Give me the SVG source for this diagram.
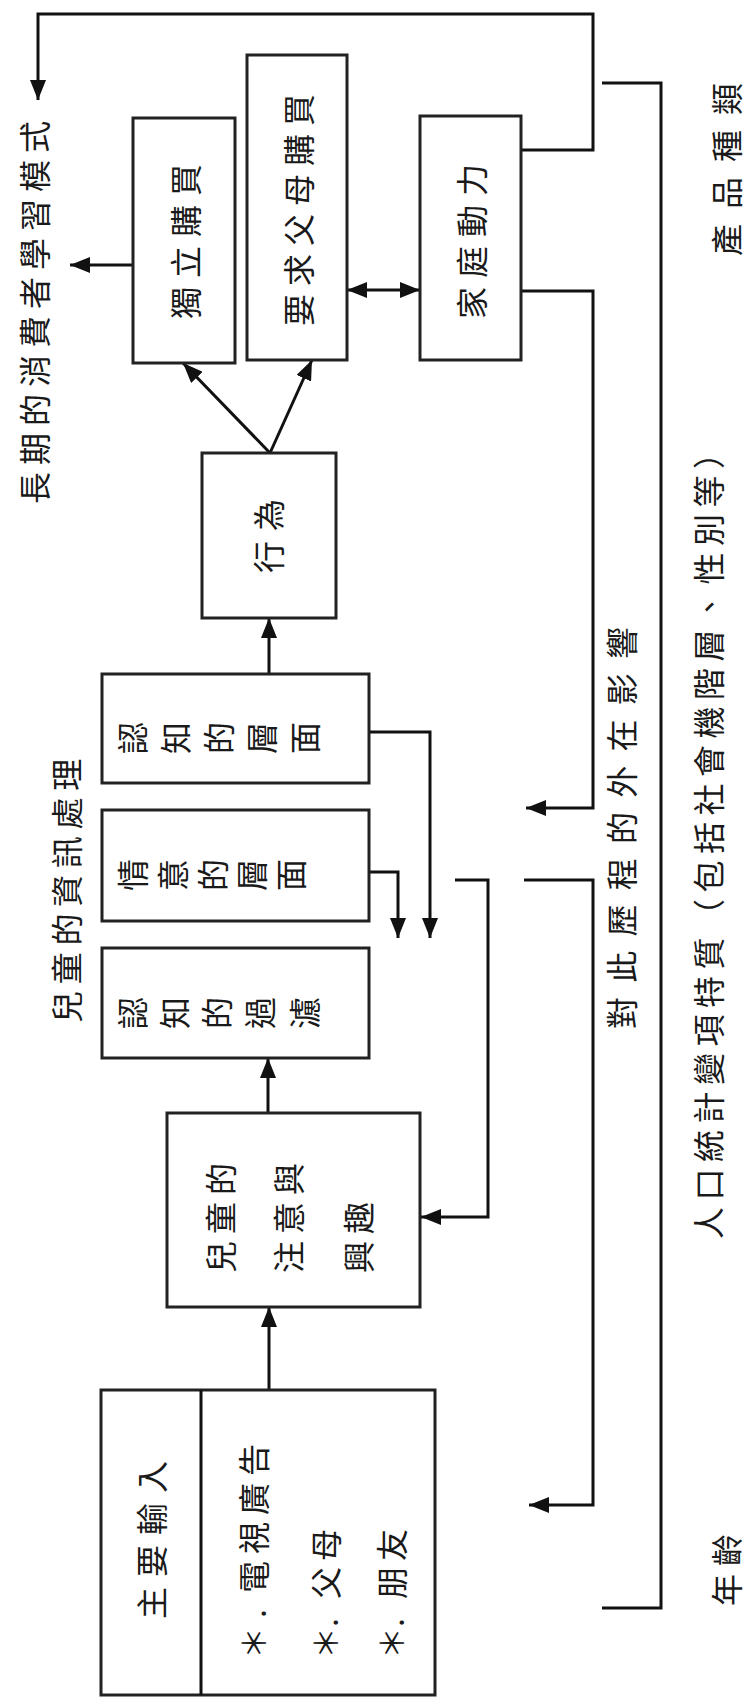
<svg xmlns="http://www.w3.org/2000/svg" width="747" height="1699" viewBox="0 0 747 1699">
<style>
  .box { fill: #fff; stroke: #222; stroke-width: 3; }
  .ln { fill: none; stroke: #111; stroke-width: 3; }
  .arr { marker-end: url(#ah); }
  .t { font-family: "Noto Sans CJK TC", "Noto Sans CJK SC", sans-serif; font-size: 32px; fill: #1a1a1a; }
  .r { dominant-baseline: central; }
</style>
<defs>
  <marker id="ah" viewBox="0 0 20 16" refX="20" refY="8" markerWidth="20" markerHeight="16" markerUnits="userSpaceOnUse" orient="auto-start-reverse">
    <path d="M0,0 L20,8 L0,16 z" fill="#111"/>
  </marker>
</defs>
<rect width="747" height="1699" fill="#fff"/>

<g id="connectors">
  <path class="ln arr" d="M521,150 H593 V14 H38 V100"/>
  <path class="ln arr" d="M133,265 H70"/>
  <path class="ln arr" d="M347,290 H420" marker-start="url(#ah)"/>
  <path class="ln arr" d="M521,291 H593 V808 H526"/>
  <path class="ln arr" d="M270,453 L183,363"/>
  <path class="ln arr" d="M270,453 L312,360"/>
  <path class="ln arr" d="M269,674 V618"/>
  <path class="ln arr" d="M369,732 H430 V938"/>
  <path class="ln arr" d="M369,872 H398 V938"/>
  <path class="ln arr" d="M455,880 H488 V1217 H421"/>
  <path class="ln arr" d="M524,880 H593 V1505 H529"/>
  <path class="ln arr" d="M268,1113 V1058"/>
  <path class="ln arr" d="M269,1390 V1307"/>
  <path class="ln" d="M602,83 H661 V1608 H602"/>
</g>

<g id="n-dulimaimai">
  <rect class="box" x="133" y="118" width="102" height="245"/>
  <text class="t r" transform="translate(184,319) rotate(-90)" x="0 41 82 123" y="0">獨立購買</text>
</g>
<g id="n-yaoqiu">
  <rect class="box" x="247" y="55" width="100" height="305"/>
  <text class="t r" transform="translate(297,326) rotate(-90)" x="0 40 80 120 160 200" y="0">要求父母購買</text>
</g>
<g id="n-jiating">
  <rect class="box" x="420" y="116" width="101" height="244"/>
  <text class="t r" transform="translate(470,319) rotate(-90)" x="0 41 82 123" y="0">家庭動力</text>
</g>
<g id="n-xingwei">
  <rect class="box" x="202" y="453" width="134" height="165"/>
  <text class="t r" transform="translate(267,573) rotate(-90)" x="0 42" y="0">行為</text>
</g>
<g id="n-renzhi-cengmian">
  <rect class="box" x="102" y="674" width="267" height="109"/>
  <text class="t" x="145.2 188.2 231.2 274.2 317.2" y="754" rotate="-90">認知的層面</text>
</g>
<g id="n-qingyi">
  <rect class="box" x="102" y="810" width="267" height="111"/>
  <text class="t" x="145.2 185.2 225.2 264.2 303.2" y="891" rotate="-90">情意的層面</text>
</g>
<g id="n-renzhi-guolv">
  <rect class="box" x="102" y="948" width="267" height="110"/>
  <text class="t" x="145.2 187.2 229.2 272.2 317.2" y="1029" rotate="-90">認知的過濾</text>
</g>
<g id="n-ertong">
  <rect class="box" x="167" y="1113" width="253" height="194"/>
  <text class="t r" transform="translate(219,1273) rotate(-90)" x="0 39 78" y="0">兒童的</text>
  <text class="t r" transform="translate(287,1273) rotate(-90)" x="0 39 78" y="0">注意與</text>
  <text class="t r" transform="translate(357,1273) rotate(-90)" x="0 39" y="0">興趣</text>
</g>
<g id="n-input">
  <rect class="box" x="101" y="1390" width="334" height="305"/>
  <line class="ln" x1="201" y1="1390" x2="201" y2="1695"/>
  <text class="t r" transform="translate(150,1619) rotate(-90)" x="0 42 84 126" y="0">主要輸入</text>
  <text class="t r" transform="translate(252,1659) rotate(-90)" x="0 41 66 105 144 183" y="0">＊.電視廣告</text>
  <text class="t r" transform="translate(324,1659) rotate(-90)" x="0 32 60 98" y="0">＊.父母</text>
  <text class="t r" transform="translate(390,1659) rotate(-90)" x="0 32 60 98" y="0">＊.朋友</text>
</g>

<g id="labels">
  <text class="t r" transform="translate(33,504) rotate(-90)" x="0 39 78 117 156 195 234 273 312 351" y="0">長期的消費者學習模式</text>
  <text class="t r" transform="translate(65,1023) rotate(-90)" x="0 38.7 77.4 116.1 154.8 193.5 232.2" y="0">兒童的資訊處理</text>
  <text class="t r" transform="translate(620,1029) rotate(-90)" x="0 46.25 92.5 138.75 185 231.25 277.5 323.75 370" y="0">對此歷程的外在影響</text>
  <text class="t r" transform="translate(707,1239) rotate(-90)" x="0 38.5 77 115.5 154 192.5 231 269.5 308 346.5 385 423.5 462 500.5 539 577.5 616 654.5 693 731.5 770" y="0">人口統計變項特質（包括社會機階層、性別等）</text>
  <text class="t r" transform="translate(725,256) rotate(-90)" x="0 47 94 141" y="0">產品種類</text>
  <text class="t r" transform="translate(725,1606) rotate(-90)" x="0 40" y="0">年齡</text>
</g>
</svg>
